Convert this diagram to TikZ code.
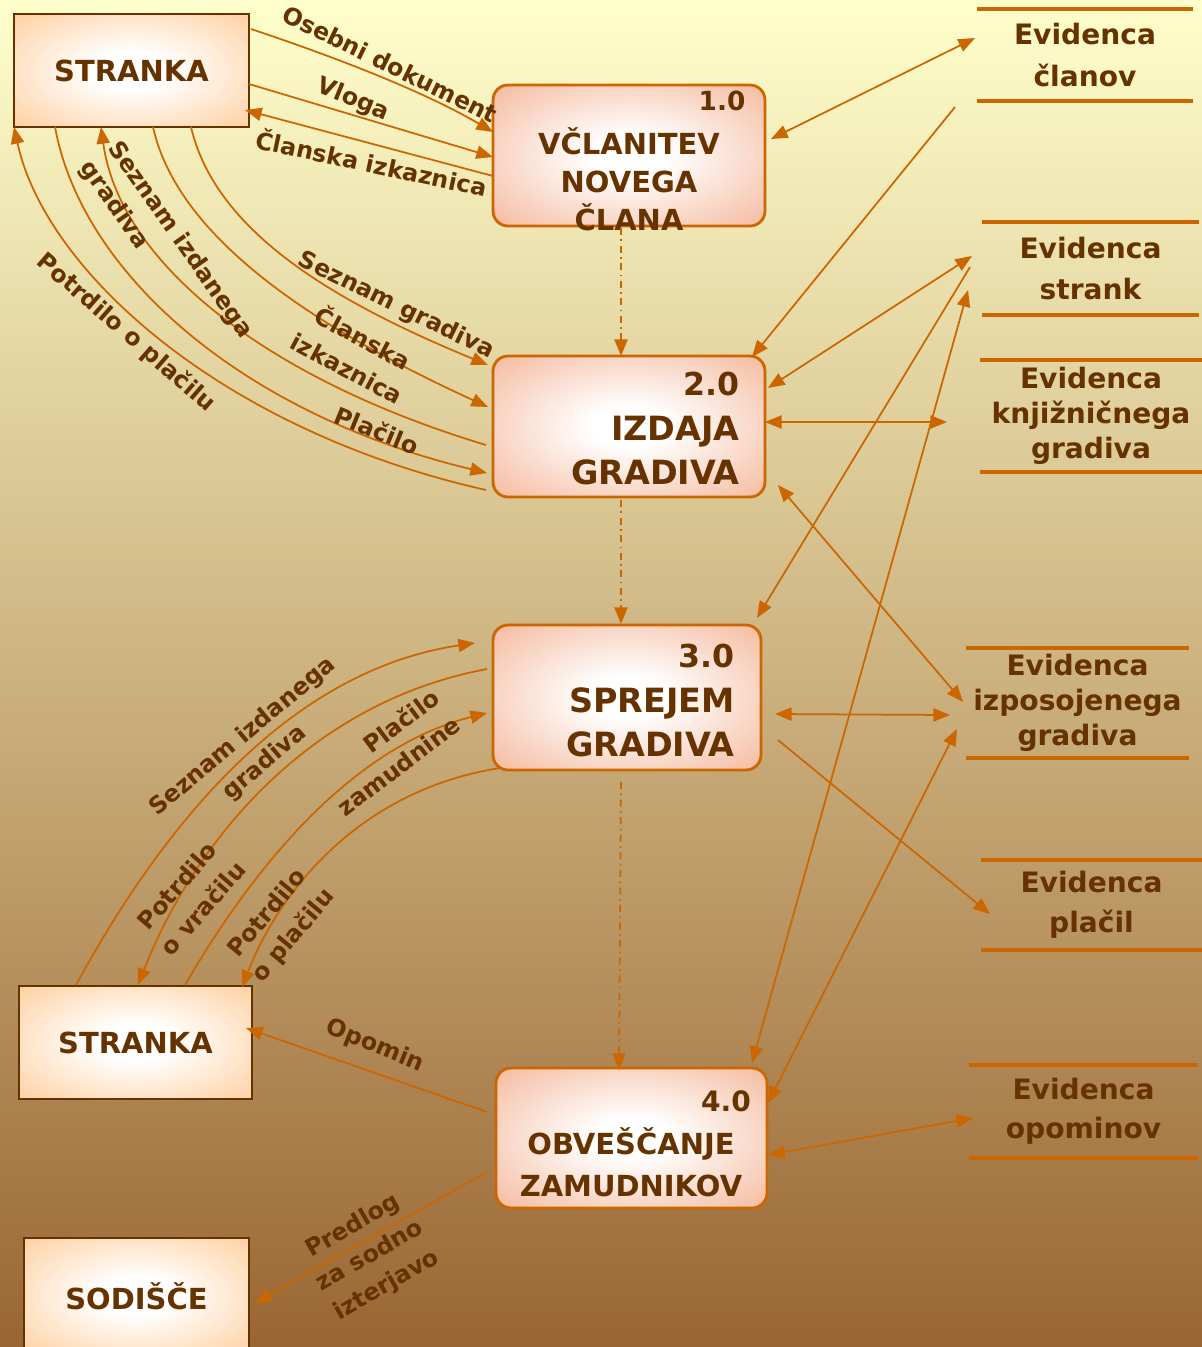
\documentclass[tikz,border=0pt]{standalone}
\usepackage{fontspec}
\setmainfont{DejaVu Sans}
\usepackage{tikz}
\usetikzlibrary{arrows.meta,positioning,calc}
\definecolor{txtbrown}{HTML}{663300}
\definecolor{flowor}{HTML}{CC6600}
\definecolor{entfill}{HTML}{FFCC99}
\definecolor{procfill}{HTML}{F4B496}
\definecolor{bgtop}{HTML}{FFFFCC}
\definecolor{bgmid}{HTML}{D6C898}
\definecolor{bgbot}{HTML}{996633}
\pgfdeclareradialshading{entshade}{\pgfpoint{0bp}{0bp}}{color(0bp)=(white); color(8bp)=(white); color(38bp)=(entfill); color(50bp)=(entfill)}
\pgfdeclareradialshading{procshade}{\pgfpoint{0bp}{0bp}}{color(0bp)=(white); color(7bp)=(white); color(38bp)=(procfill); color(50bp)=(procfill)}
\tikzset{
  entbox/.style={draw=txtbrown,line width=1.3pt,shade,shading=entshade,
    inner sep=0pt,outer sep=0pt,text=txtbrown,
    font=\fontsize{16.5}{20}\selectfont\bfseries},
  procbox/.style={draw=flowor,line width=1.6pt,rounded corners=0.3cm,shade,
    shading=procshade,inner sep=0pt,outer sep=0pt},
  procname/.style={text=txtbrown,inner sep=0pt,font=\fontsize{16.5}{21.5}\selectfont\bfseries},
  procnum/.style={text=txtbrown,inner sep=0pt,font=\fontsize{15}{18}\selectfont\bfseries},
  storetxt/.style={text=txtbrown,align=center,inner sep=0pt,outer sep=0pt,
    font=\fontsize{16}{23.8}\selectfont\bfseries},
  storeline/.style={draw=flowor,line width=1.8pt},
  flowlbl/.style={text=txtbrown,inner sep=0pt,font=\fontsize{13.5}{19.5}\selectfont\bfseries},
  flow/.style={draw=flowor,line width=1pt,-{Triangle[length=9.5pt,width=7.5pt]}},
  biflow/.style={draw=flowor,line width=1pt,{Triangle[length=9.5pt,width=7.5pt]}-{Triangle[length=9.5pt,width=7.5pt]}},
  ctrlflow/.style={draw=flowor,line width=1pt,dash pattern=on 4pt off 2.5pt on 1pt off 2.5pt,
    -{Triangle[length=9.5pt,width=7.5pt]}}
}
\begin{document}
\begin{tikzpicture}[x=0.02cm,y=-0.02cm]
  \useasboundingbox (0,0) rectangle (1202,1347);
  \clip (0,0) rectangle (1202,1347);
  \shade[top color=bgtop,middle color=bgmid,bottom color=bgbot] (0,0) rectangle (1202,1347);

  % zunanje entitete
  \node[entbox,minimum width=4.7cm,minimum height=2.26cm] (s1) at (131.5,70.5) {STRANKA};
  \node[entbox,minimum width=4.66cm,minimum height=2.26cm] (s2) at (135.5,1042.5) {STRANKA};
  \node[entbox,minimum width=4.5cm,minimum height=2.32cm] (sod) at (136.5,1296) {SODIŠČE};

  % procesi
  \node[procbox,minimum width=5.44cm,minimum height=2.82cm] (p1) at (629,155.5) {};
  \node[procnum] (p1num) at (722,101) {1.0};
  \node[procname,align=center] (p1txt) at (629,179) {VČLANITEV\\NOVEGA\\ČLANA};

  \node[procbox,minimum width=5.44cm,minimum height=2.82cm] (p2) at (629,426.5) {};
  \node[procnum,anchor=east,font=\fontsize{18}{20}\selectfont\bfseries] (p2num) at (740,384) {2.0};
  \node[procname,anchor=east,align=right,font=\fontsize{19}{25}\selectfont\bfseries] (p2txt) at (740,450.5) {IZDAJA\\GRADIVA};

  \node[procbox,minimum width=5.36cm,minimum height=2.9cm] (p3) at (627,697.5) {};
  \node[procnum,anchor=east,font=\fontsize{18}{20}\selectfont\bfseries] (p3num) at (735,656) {3.0};
  \node[procname,anchor=east,align=right,font=\fontsize{19}{25}\selectfont\bfseries] (p3txt) at (735,722.5) {SPREJEM\\GRADIVA};

  \node[procbox,minimum width=5.42cm,minimum height=2.8cm] (p4) at (631.5,1138) {};
  \node[procnum,font=\fontsize{16}{18}\selectfont\bfseries] (p4num) at (726,1101) {4.0};
  \node[procname,align=center,font=\fontsize{16.5}{23.8}\selectfont\bfseries] (p4txt) at (631,1162) {OBVEŠČANJE\\ZAMUDNIKOV};

  % podatkovne shrambe
  \node[storetxt,minimum width=4.32cm,minimum height=1.84cm] (ds1) at (1085,55) {Evidenca\\članov};
  \node[storetxt,minimum width=4.34cm,minimum height=1.86cm] (ds2) at (1090.5,268.5) {Evidenca\\strank};
  \node[storetxt,minimum width=4.44cm,minimum height=2.24cm,font=\fontsize{16}{19.8}\selectfont\bfseries] (ds3) at (1091,416) {Evidenca\\knjižničnega\\gradiva};
  \node[storetxt,minimum width=4.46cm,minimum height=2.2cm,font=\fontsize{16}{19.8}\selectfont\bfseries] (ds4) at (1077.5,703) {Evidenca\\izposojenega\\gradiva};
  \node[storetxt,minimum width=4.42cm,minimum height=1.8cm,font=\fontsize{16}{22.7}\selectfont\bfseries] (ds5) at (1091.5,905) {Evidenca\\plačil};
  \node[storetxt,minimum width=4.58cm,minimum height=1.86cm,font=\fontsize{16}{22.1}\selectfont\bfseries] (ds6) at (1083.5,1111.5) {Evidenca\\opominov};
  \foreach \d in {ds1,ds2,ds3,ds4,ds5,ds6} {
    \draw[storeline] (\d.north west) -- (\d.north east);
    \draw[storeline] (\d.south west) -- (\d.south east);
  }

  % tokovi STRANKA - 1.0
  \draw[flow] ($(s1.north east)+(2,15)$) .. controls (350,62) and (430,95) .. ($(p1.west)+(0,-23.5)$);
  \draw[flow] ($(s1.east)+(0,13.5)$) -- ($(p1.west)+(0,1.5)$);
  \draw[flow] ($(p1.west)+(0,20.5)$) -- ($(s1.south east)+(-4,-17)$);
  \node[flowlbl,rotate=-26] (lOseb) at (390,64) {Osebni dokument};
  \node[flowlbl,rotate=-22] (lVloga) at (353,100) {Vloga};
  \node[flowlbl,rotate=-12] (lClan1) at (372,162) {Članska izkaznica};

  % tokovi STRANKA - 2.0
  \draw[flow] ($(s1.south west)+(177,0)$) .. controls (215,230) and (330,300) .. ($(p2.west)+(-5,-61.5)$);
  \draw[flow] ($(s1.south west)+(139,0)$) .. controls (178,240) and (320,330) .. ($(p2.west)+(-5,-19.5)$);
  \draw[flow] ($(p2.west)+(-7,18.5)$) .. controls (270,380) and (120,265) .. ($(s1.south west)+(87,0)$);
  \draw[flow] ($(s1.south west)+(41,0)$) .. controls (82,275) and (245,415) .. ($(p2.west)+(-6,46.5)$);
  \draw[flow] ($(p2.west)+(-7,63.5)$) .. controls (220,430) and (45,270) .. (s1.south west);
  \node[flowlbl,rotate=-26] (lSezGr) at (396,306) {Seznam gradiva};
  \node[flowlbl,rotate=-28,align=center] (lClan2) at (356,352) {Članska\\izkaznica};
  \node[flowlbl,rotate=-55,align=left] (lSezIzd1) at (166,250) {Seznam izdanega\\gradiva};
  \node[flowlbl,rotate=-22] (lPlac1) at (377,430) {Plačilo};
  \node[flowlbl,rotate=-41] (lPotr1) at (126,333) {Potrdilo o plačilu};

  % tokovi STRANKA - 3.0
  \draw[flow] ($(s2.north west)+(57,-1)$) .. controls (155,840) and (280,672) .. ($(p3.west)+(-18,-54.5)$);
  \draw[flow] ($(p3.west)+(-6,-28.5)$) .. controls (310,702) and (195,840) .. ($(s2.north west)+(119,-1)$);
  \draw[flow] ($(s2.north west)+(166,-1)$) .. controls (240,890) and (340,750) .. ($(p3.west)+(-6,15.5)$);
  \draw[flow] ($(p3.south west)+(7,-2)$) .. controls (360,790) and (280,890) .. ($(s2.north west)+(223,1)$);
  \node[flowlbl,rotate=40,align=center] (lSezIzd2) at (254,750) {Seznam izdanega\\gradiva};
  \node[flowlbl,rotate=49,align=center] (lPotr2) at (190,897) {Potrdilo\\o vračilu};
  \node[flowlbl,rotate=37,align=right] (lPlac2) at (388,752) {Plačilo\\zamudnine};
  \node[flowlbl,rotate=50,align=center] (lPotr3) at (281,925) {Potrdilo\\o plačilu};

  % tokovi 4.0
  \draw[flow] ($(p4.west)+(-9,-26)$) -- ($(s2.east)+(-6,-14.5)$);
  \draw[flow] ($(p4.west)+(-9,34)$) -- ($(sod.east)+(6,7)$);
  \node[flowlbl,rotate=-22] (lOpom) at (375,1046) {Opomin};
  \node[flowlbl,rotate=30,align=center] (lPredl) at (370,1256) {Predlog\\za sodno\\izterjavo};

  % zaporedje procesov
  \draw[ctrlflow] ($(p1.south)+(-8,2)$) -- ($(p2.north)+(-8,0)$);
  \draw[ctrlflow] ($(p2.south)+(-8,3)$) -- ($(p3.north)+(-6,-1)$);
  \draw[ctrlflow] ($(p3.south)+(-6,12)$) -- ($(p4.north)+(-12.5,2)$);

  % tokovi do shramb
  \draw[biflow] ($(p1.east)+(6,-16.5)$) -- ($(ds1.west)+(-2,-17)$);
  \draw[flow] ($(ds1.south west)+(-22,6)$) -- ($(p2.north east)+(-13,1)$);
  \draw[biflow] ($(p2.east)+(3,-38.5)$) -- ($(ds2.west)+(-10,-12.5)$);
  \draw[flow] ($(ds2.west)+(-12,-1.5)$) -- ($(p3.north east)+(-4,-7)$);
  \draw[biflow] ($(ds2.west)+(-14,21.5)$) -- ($(p4.north east)+(-15,-5)$);
  \draw[biflow] ($(p2.east)+(0,-4.5)$) -- ($(ds3.west)+(-33,6)$);
  \draw[biflow] ($(p2.south east)+(13,-12)$) -- ($(ds4.west)+(-3,-1)$);
  \draw[biflow] ($(p3.east)+(14,16.5)$) -- ($(ds4.west)+(-16,12)$);
  \draw[biflow] ($(ds4.west)+(-9,26)$) -- ($(p4.east)+(1,-35)$);
  \draw[flow] ($(p3.east)+(17,42.5)$) -- ($(ds5.west)+(9,9)$);
  \draw[biflow] ($(p4.east)+(1,17)$) -- ($(ds6.west)+(4,6.5)$);
\end{tikzpicture}
\end{document}
